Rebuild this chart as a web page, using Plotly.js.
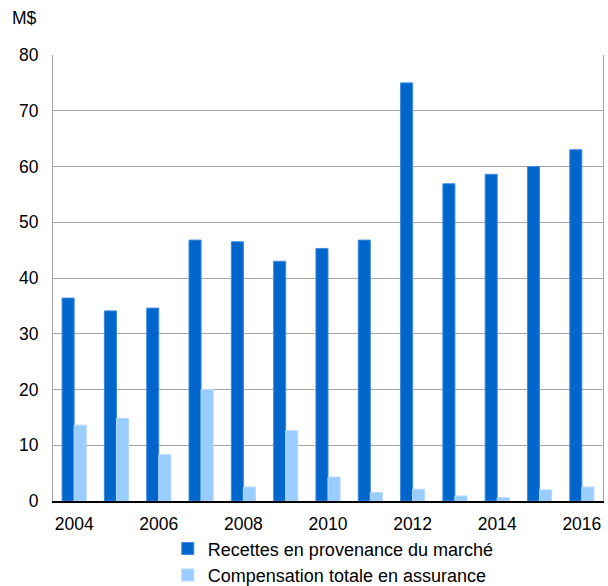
<!DOCTYPE html>
<html><head><meta charset="utf-8">
<script src="https://cdn.plot.ly/plotly-3.0.1.min.js"></script>
<style>html,body{margin:0;padding:0;background:#fff}#c{width:608px;height:586px}</style>
</head><body><div id="c"></div>
<script>
const years = [2004,2005,2006,2007,2008,2009,2010,2011,2012,2013,2014,2015,2016];
const marketRevenue = [36.4,34.1,34.6,46.8,46.5,43.0,45.3,46.8,75.0,56.9,58.6,60.0,63.0];
const insuranceComp = [13.6,14.8,8.3,20.0,2.5,12.6,4.3,1.5,2.1,0.9,0.6,2.0,2.5];
const seriesNames = ["Recettes en provenance du marché","Compensation totale en assurance"];
const tickYears = [2004,2006,2008,2010,2012,2014,2016];

const data = [
  {type:'bar', x:years, y:marketRevenue, name:seriesNames[0],
   marker:{color:'#0066CC', line:{color:'#3d8ae0', width:1}}},
  {type:'bar', x:years, y:insuranceComp, name:seriesNames[1],
   marker:{color:'#99CCFF', line:{color:'#b3d9ff', width:1}}}
];
const layout = {
  width:608, height:586,
  margin:{l:53, r:5, t:55, b:85},
  paper_bgcolor:'#fff', plot_bgcolor:'#fff',
  font:{family:'"Liberation Sans", Arial, sans-serif', size:17.5, color:'#000'},
  barmode:'group', bargap:0.43, bargroupgap:0,
  xaxis:{range:[2003.5,2016.5], tickvals:tickYears, ticktext:tickYears.map(String),
    showgrid:false, zeroline:false, showline:true, linecolor:'#000', linewidth:1.5,
    ticks:'outside', ticklen:6, tickcolor:'rgba(0,0,0,0)', automargin:false},
  yaxis:{range:[0,80], dtick:10, showgrid:true, gridcolor:'#a6a6a6', gridwidth:1,
    zeroline:false, showline:true, mirror:true, linecolor:'#a6a6a6', linewidth:1,
    ticks:'outside', ticklen:10, tickcolor:'rgba(0,0,0,0)', automargin:false},
  showlegend:true,
  legend:{orientation:'h', xref:'container', yref:'container', x:0.276, xanchor:'left',
    y:0.095, yanchor:'top', font:{size:18}, tracegroupgap:0, itemwidth:30,
    entrywidth:1, entrywidthmode:'fraction'},
  annotations:[{text:'M$', xref:'paper', yref:'paper', x:-0.078, y:1.083, xanchor:'left', yanchor:'middle',
    showarrow:false, font:{size:17.5}}]
};
Plotly.newPlot('c', data, layout, {displayModeBar:false, staticPlot:true});
</script></body></html>
